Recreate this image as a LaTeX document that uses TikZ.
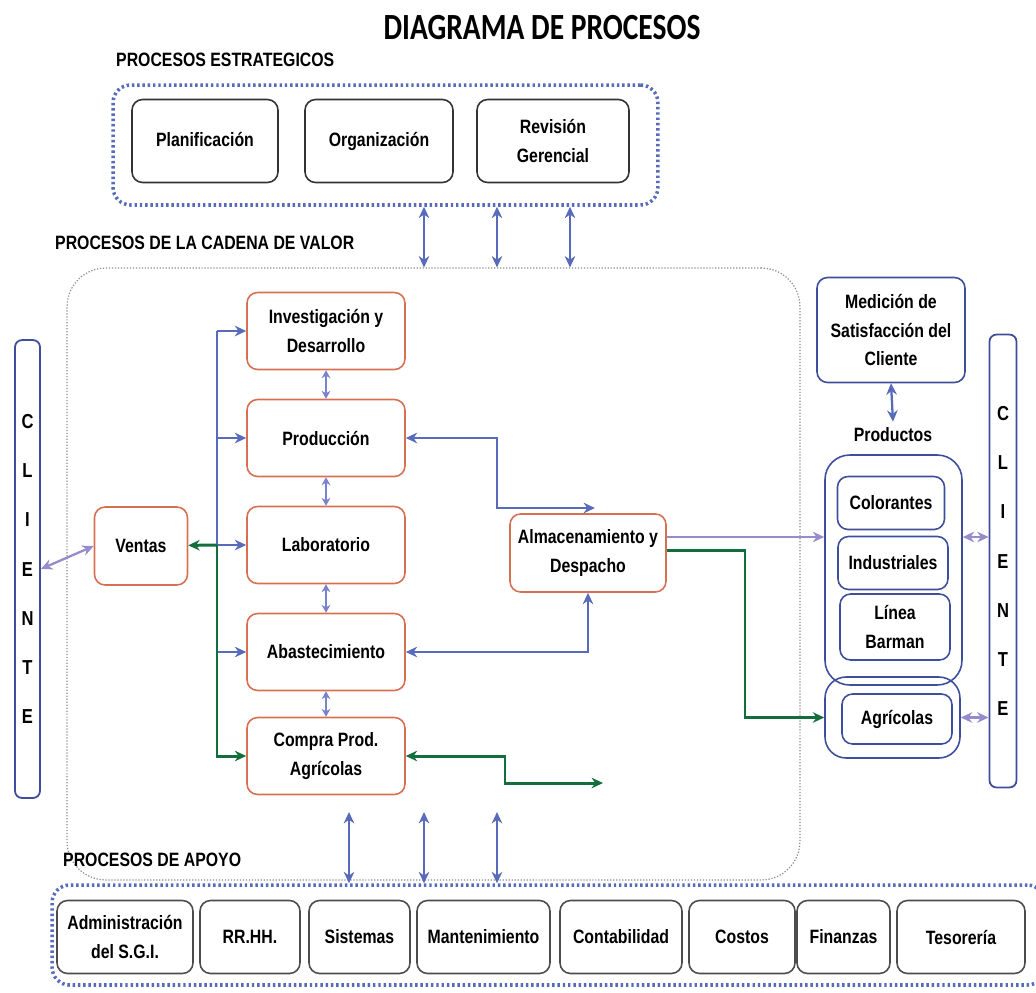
\documentclass[tikz,border=0pt]{standalone}
\usepackage{fontspec}
\setmainfont{Liberation Sans}[FakeStretch=0.82]
\newfontfamily\titulofont{Carlito}[FakeStretch=0.8]
\usetikzlibrary{positioning,arrows.meta}

\definecolor{azul}{RGB}{88,106,186}
\definecolor{azulc}{RGB}{120,130,205}
\definecolor{lila}{RGB}{150,140,205}
\definecolor{verde}{RGB}{20,110,60}
\definecolor{naranja}{RGB}{215,112,82}
\definecolor{azulosc}{RGB}{62,78,155}

\begin{document}
\begin{tikzpicture}[x=0.02cm,y=-0.02cm,>={Stealth[length=6.5pt,width=6pt]},
  font=\bfseries\fontsize{11}{16}\selectfont,
  caja/.style={draw,rounded corners=6pt,align=center,inner sep=1pt,line width=0.9pt},
  negra/.style={caja,draw=black!80,minimum height=1.66cm},
  naranjo/.style={caja,draw=naranja,minimum width=3.16cm,minimum height=1.54cm},
  producto/.style={caja,draw=azulosc,minimum width=2.2cm,minimum height=1.06cm},
  apoyo box/.style={caja,draw=black!70,minimum height=1.46cm},
  cliente/.style={draw=azulosc,rounded corners=4pt,line width=1pt,align=center,inner sep=0pt,font=\bfseries\fontsize{11.5}{28}\selectfont},
  punteado/.style={draw=azul,rounded corners=10pt,line width=2pt,dash pattern=on 1.4pt off 1.6pt},
  flecha/.style={azul,line width=1.3pt},
  corta/.style={azulc,line width=1.6pt,{Stealth[length=4.5pt,width=5pt]}-{Stealth[length=4.5pt,width=5pt]}},
  verdef/.style={verde,line width=1.7pt},
  titulo/.style={anchor=west,font=\bfseries\fontsize{11}{13}\selectfont}]

\useasboundingbox (0,0) rectangle (1036,992);

\node (tit) at (542,28) {\titulofont\bfseries\fontsize{21}{24}\selectfont DIAGRAMA DE PROCESOS};

% procesos estrategicos
\node[titulo] (lblest) at (110,60) {PROCESOS ESTRATEGICOS};
\node[punteado,minimum width=10.9cm,minimum height=2.4cm] (estr) at (385.5,145) {};
\node[negra,minimum width=2.92cm] (plan) at (205,141) {Planificación\vphantom{g}};
\node[negra,minimum width=2.96cm] (org) at (379,141) {Organización};
\node[negra,minimum width=3.04cm] (rev) at (553,141) {Revisión\\Gerencial};

% cadena de valor
\node[titulo] (lblcad) at (49,243) {PROCESOS DE LA CADENA DE VALOR};
\node[draw=black!45,densely dotted,line width=0.7pt,rounded corners=22pt,minimum width=14.66cm,minimum height=12.24cm] (cadena) at (433.5,574) {};

\foreach \x in {424,497,570}
  \draw[flecha,<->] (estr.south -| \x,0) -- (cadena.north -| \x,0);

\node[cliente,minimum width=0.5cm,minimum height=9.16cm] (clizq) at (27.5,569) {C\\L\\I\\E\\N\\T\\E};
\node[cliente,minimum width=0.54cm,minimum height=9.06cm] (clder) at (1003,561) {C\\L\\I\\E\\N\\T\\E};

\node[naranjo,minimum width=1.86cm,minimum height=1.56cm] (ventas) at (141,546) {Ventas};
\node[naranjo] (inv) at (326,331) {Investigación y\\Desarrollo};
\node[naranjo] (prod) at (326,438) {Producción};
\node[naranjo] (lab) at (326,545) {Laboratorio};
\node[naranjo] (abas) at (326,652) {Abastecimiento};
\node[naranjo] (comp) at (326,756) {Compra Prod.\\Agrícolas};
\node[naranjo,minimum width=3.12cm,minimum height=1.56cm] (alm) at (588,553) {Almacenamiento y\\Despacho};

\draw[lila,line width=1.3pt,<->] (clizq.east) -- (ventas.west);

\draw[corta] (inv) -- (prod);
\draw[corta] (prod) -- (lab);
\draw[corta] (lab) -- (abas);
\draw[corta] (abas) -- (comp);

\coordinate (bus) at (217,545);
\draw[flecha] (bus |- inv) -- (bus |- abas);
\draw[flecha,->] (bus |- inv) -- (inv);
\draw[flecha,->] (bus |- prod) -- (prod);
\draw[flecha,->] (bus) -- (lab);
\draw[flecha,->] (bus |- abas) -- (abas);
\draw[verdef,->] (bus) -- (ventas);
\draw[verdef,->] (bus) |- (comp);

\draw[flecha,<->] (prod.east) -| (497,508) -- (595,508);
\draw[flecha,<->] (abas.east) -| (alm.south);

\coordinate (salida) at (603,783);
\draw[verdef,<->] (comp.east) -- (505,756) |- (salida);

% productos
\node[caja,draw=azulosc,minimum width=2.96cm,minimum height=2.1cm] (med) at (891,330) {Medición de\\Satisfacción del\\Cliente};
\node (prodlbl) at (893,435) {Productos};
\node[caja,draw=azulosc,rounded corners=14pt,minimum width=2.74cm,minimum height=4.6cm] (grupo) at (893.5,570) {};
\node[caja,draw=azulosc,rounded corners=12pt,minimum width=2.7cm,minimum height=1.62cm] (agrgrp) at (892.5,717.5) {};
\node[producto,minimum width=2.14cm] (col) at (891,503) {Colorantes};
\node[producto] (ind) at (893,563) {Industriales};
\node[producto,minimum height=1.32cm] (bar) at (895,627) {Línea\\Barman};
\node[producto,minimum height=1.0cm] (agr) at (897,719) {Agrícolas};

\draw[flecha,<->] (med.south) -- (prodlbl.north);
\draw[lila,line width=1.6pt,->] (alm.east |- 0,537) -- (grupo.west |- 0,537);
\draw[verdef,->] (alm.east |- 0,550) -- (745,550) |- (agrgrp.west);
\draw[lila,line width=1.4pt,<->] (grupo.east |- 0,537) -- (clder.west |- 0,537);
\draw[lila,line width=1.4pt,<->] (agrgrp.east) -- (clder.west |- agrgrp);

% procesos de apoyo
\node[titulo] (lblapo) at (57,860) {PROCESOS DE APOYO};
\node[punteado,minimum width=19.86cm,minimum height=2.0cm] (apoyo) at (548.5,935) {};
\node[apoyo box,minimum width=2.72cm] (adm) at (125,937) {Administración\\del S.G.I.};
\node[apoyo box,minimum width=2.0cm] (rrhh) at (250,937) {RR.HH.};
\node[apoyo box,minimum width=2.02cm] (sis) at (359.5,937) {Sistemas};
\node[apoyo box,minimum width=2.66cm] (mant) at (483.5,937) {Mantenimiento};
\node[apoyo box,minimum width=2.44cm] (cont) at (621,937) {Contabilidad};
\node[apoyo box,minimum width=2.12cm] (cost) at (742,937) {Costos};
\node[apoyo box,minimum width=1.86cm] (fin) at (843.5,937) {Finanzas};
\node[apoyo box,minimum width=2.56cm] (tes) at (961,937) {Tesorería};

\foreach \x in {349,424,497}
  \draw[flecha,<->] (\x,812) -- (apoyo.north -| \x,0);

\end{tikzpicture}
\end{document}
